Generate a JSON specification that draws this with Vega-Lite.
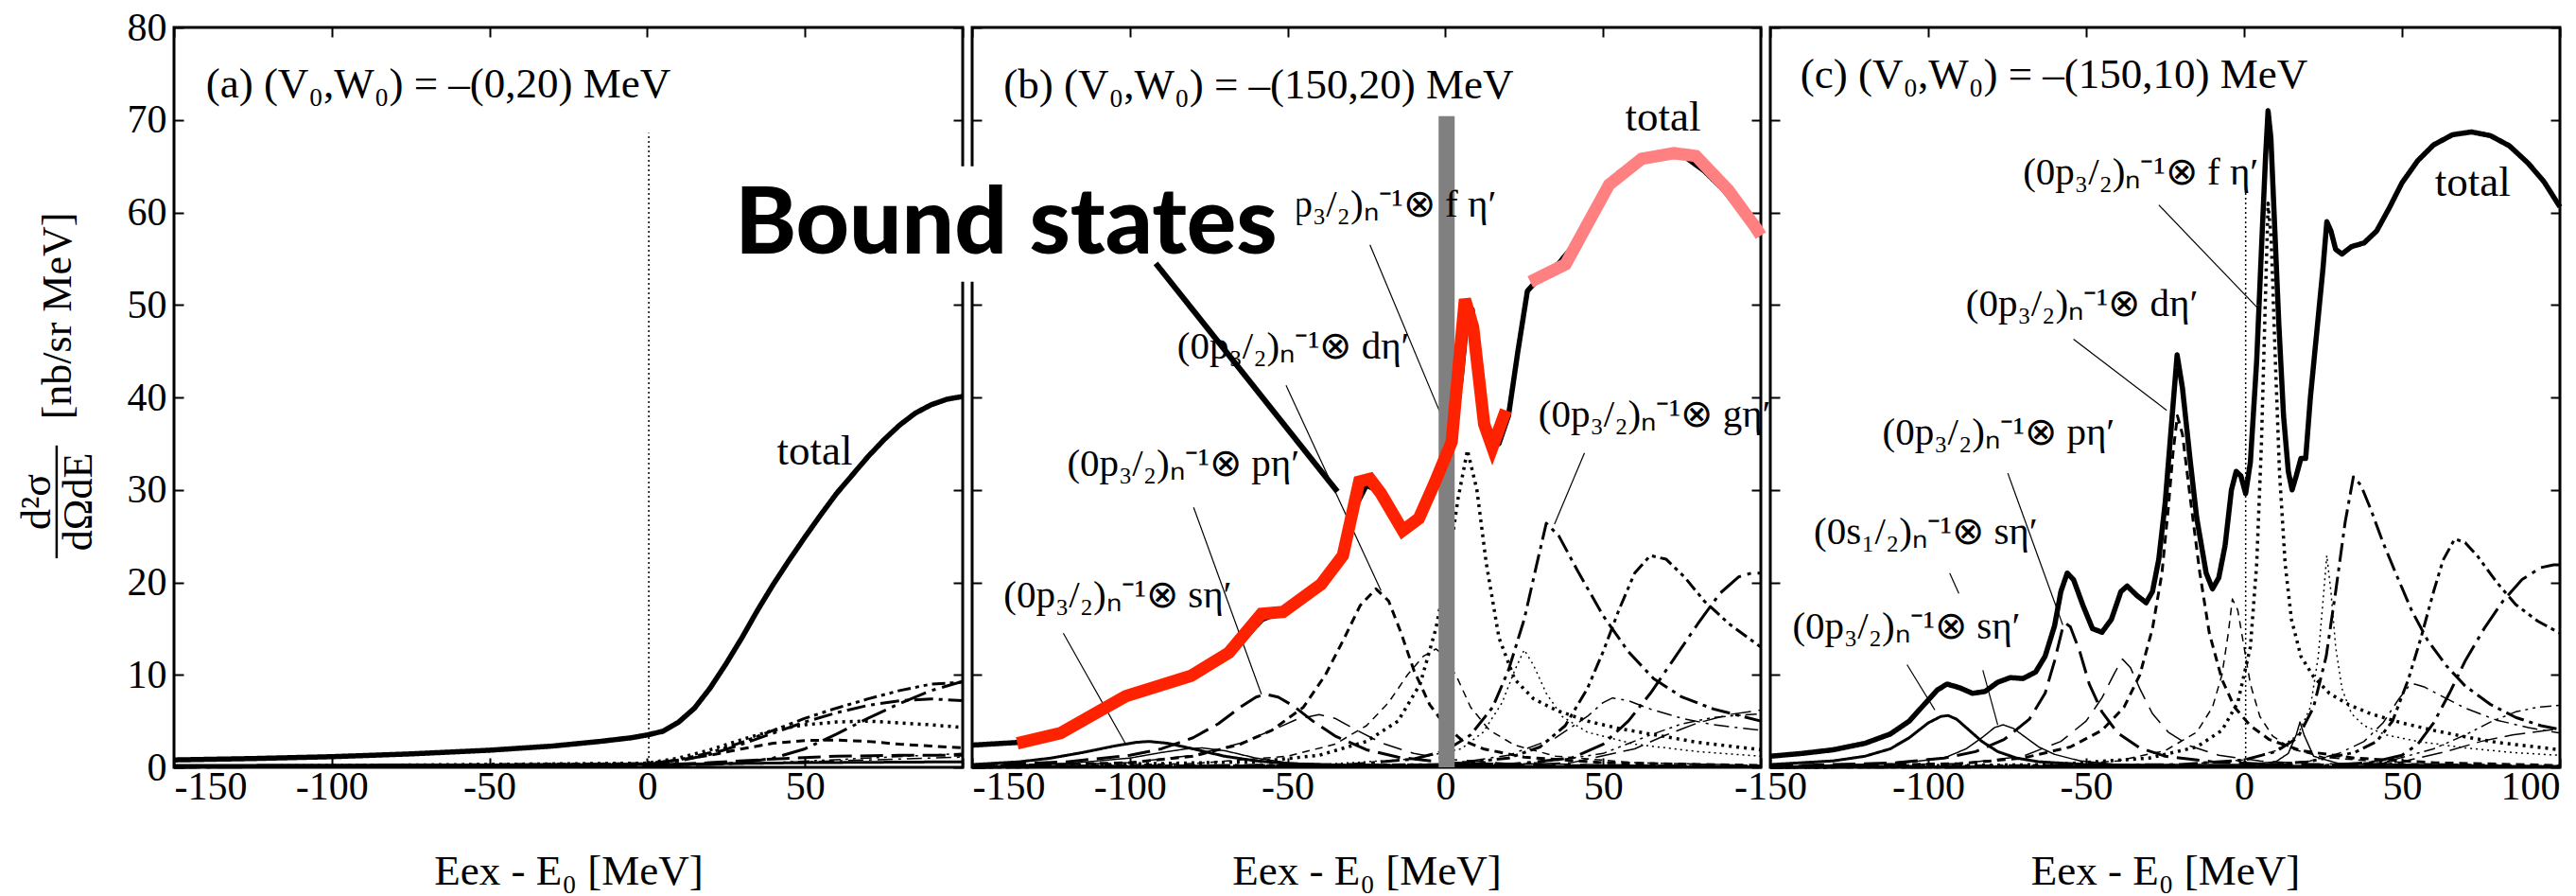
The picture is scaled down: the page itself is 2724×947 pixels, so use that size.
{
"$schema": "https://vega.github.io/schema/vega-lite/v6.json",
"padding": {"left": 16, "top": 6, "right": 20, "bottom": 0},
"bounds": "flush",
"spacing": 10,
"config": {
 "view": {"stroke": "black", "strokeWidth": 3},
 "font": "Liberation Serif",
 "style": {"guide-label": {"font": "Liberation Serif"}, "guide-title": {"font": "Liberation Serif"}},
 "axis": {"domain": false, "grid": false, "ticks": true, "tickSize": -10, "tickWidth": 2, "tickColor": "black", "labelFont": "Liberation Serif", "labelFontSize": 42, "labelColor": "black", "labelPadding": 10, "titleFont": "Liberation Serif", "titleFontSize": 45, "titleFontWeight": "normal", "titleColor": "black"}
},
"datasets": {
"curves": [
{"p":"a","s":"total","x":-150,"y":0.8},{"p":"a","s":"total","x":-125,"y":0.95},{"p":"a","s":"total","x":-100,"y":1.15},{"p":"a","s":"total","x":-75,"y":1.45},{"p":"a","s":"total","x":-50,"y":1.85},{"p":"a","s":"total","x":-30,"y":2.3},{"p":"a","s":"total","x":-15,"y":2.8},{"p":"a","s":"total","x":-5,"y":3.2},{"p":"a","s":"total","x":0,"y":3.5},{"p":"a","s":"total","x":5,"y":3.9},{"p":"a","s":"total","x":10,"y":4.9},{"p":"a","s":"total","x":15,"y":6.4},{"p":"a","s":"total","x":20,"y":8.6},{"p":"a","s":"total","x":25,"y":11.2},{"p":"a","s":"total","x":30,"y":14},{"p":"a","s":"total","x":35,"y":17},{"p":"a","s":"total","x":40,"y":19.8},{"p":"a","s":"total","x":45,"y":22.4},{"p":"a","s":"total","x":50,"y":24.9},{"p":"a","s":"total","x":55,"y":27.3},{"p":"a","s":"total","x":60,"y":29.6},{"p":"a","s":"total","x":65,"y":31.6},{"p":"a","s":"total","x":70,"y":33.6},{"p":"a","s":"total","x":75,"y":35.4},{"p":"a","s":"total","x":80,"y":37},{"p":"a","s":"total","x":85,"y":38.3},{"p":"a","s":"total","x":90,"y":39.2},{"p":"a","s":"total","x":95,"y":39.8},{"p":"a","s":"total","x":100,"y":40.1},
{"p":"a","s":"0p-h","x":-150,"y":0.05},{"p":"a","s":"0p-h","x":-50,"y":0.15},{"p":"a","s":"0p-h","x":0,"y":0.4},{"p":"a","s":"0p-h","x":10,"y":0.8},{"p":"a","s":"0p-h","x":20,"y":1.6},{"p":"a","s":"0p-h","x":30,"y":2.7},{"p":"a","s":"0p-h","x":40,"y":4.0},{"p":"a","s":"0p-h","x":50,"y":5.3},{"p":"a","s":"0p-h","x":60,"y":6.4},{"p":"a","s":"0p-h","x":70,"y":7.4},{"p":"a","s":"0p-h","x":80,"y":8.3},{"p":"a","s":"0p-h","x":90,"y":9.0},{"p":"a","s":"0p-h","x":100,"y":9.2},
{"p":"a","s":"0p-g","x":-150,"y":0.05},{"p":"a","s":"0p-g","x":0,"y":0.35},{"p":"a","s":"0p-g","x":10,"y":0.7},{"p":"a","s":"0p-g","x":20,"y":1.4},{"p":"a","s":"0p-g","x":30,"y":2.5},{"p":"a","s":"0p-g","x":40,"y":3.7},{"p":"a","s":"0p-g","x":50,"y":4.9},{"p":"a","s":"0p-g","x":60,"y":5.9},{"p":"a","s":"0p-g","x":70,"y":6.7},{"p":"a","s":"0p-g","x":80,"y":7.2},{"p":"a","s":"0p-g","x":90,"y":7.4},{"p":"a","s":"0p-g","x":100,"y":7.2},
{"p":"a","s":"0p-i","x":-150,"y":0},{"p":"a","s":"0p-i","x":20,"y":0.3},{"p":"a","s":"0p-i","x":30,"y":0.5},{"p":"a","s":"0p-i","x":40,"y":1.0},{"p":"a","s":"0p-i","x":50,"y":2.0},{"p":"a","s":"0p-i","x":60,"y":3.6},{"p":"a","s":"0p-i","x":70,"y":5.3},{"p":"a","s":"0p-i","x":80,"y":6.9},{"p":"a","s":"0p-i","x":90,"y":8.3},{"p":"a","s":"0p-i","x":100,"y":9.3},
{"p":"a","s":"0p-f","x":-150,"y":0.05},{"p":"a","s":"0p-f","x":0,"y":0.45},{"p":"a","s":"0p-f","x":10,"y":1.0},{"p":"a","s":"0p-f","x":20,"y":1.9},{"p":"a","s":"0p-f","x":30,"y":3.0},{"p":"a","s":"0p-f","x":40,"y":4.0},{"p":"a","s":"0p-f","x":50,"y":4.6},{"p":"a","s":"0p-f","x":60,"y":4.9},{"p":"a","s":"0p-f","x":70,"y":5.0},{"p":"a","s":"0p-f","x":80,"y":4.8},{"p":"a","s":"0p-f","x":90,"y":4.6},{"p":"a","s":"0p-f","x":100,"y":4.3},
{"p":"a","s":"0p-d","x":-150,"y":0.05},{"p":"a","s":"0p-d","x":0,"y":0.4},{"p":"a","s":"0p-d","x":10,"y":0.8},{"p":"a","s":"0p-d","x":20,"y":1.3},{"p":"a","s":"0p-d","x":30,"y":2.0},{"p":"a","s":"0p-d","x":40,"y":2.6},{"p":"a","s":"0p-d","x":50,"y":2.9},{"p":"a","s":"0p-d","x":60,"y":2.95},{"p":"a","s":"0p-d","x":70,"y":2.8},{"p":"a","s":"0p-d","x":80,"y":2.5},{"p":"a","s":"0p-d","x":90,"y":2.3},{"p":"a","s":"0p-d","x":100,"y":2.1},
{"p":"a","s":"0p-p","x":-150,"y":0.02},{"p":"a","s":"0p-p","x":0,"y":0.2},{"p":"a","s":"0p-p","x":20,"y":0.5},{"p":"a","s":"0p-p","x":40,"y":0.9},{"p":"a","s":"0p-p","x":60,"y":1.2},{"p":"a","s":"0p-p","x":80,"y":1.3},{"p":"a","s":"0p-p","x":100,"y":1.3},
{"p":"a","s":"0p-s","x":-150,"y":0.2},{"p":"a","s":"0p-s","x":0,"y":0.3},{"p":"a","s":"0p-s","x":50,"y":0.5},{"p":"a","s":"0p-s","x":100,"y":0.6},
{"p":"a","s":"0s-h","x":-150,"y":0},{"p":"a","s":"0s-h","x":0,"y":0.1},{"p":"a","s":"0s-h","x":40,"y":0.5},{"p":"a","s":"0s-h","x":70,"y":1.0},{"p":"a","s":"0s-h","x":100,"y":1.5},
{"p":"a","s":"0s-g","x":-150,"y":0},{"p":"a","s":"0s-g","x":0,"y":0.1},{"p":"a","s":"0s-g","x":50,"y":0.6},{"p":"a","s":"0s-g","x":100,"y":1.1},

{"p":"b","s":"total","x":-150,"y":2.4},{"p":"b","s":"total","x":-140,"y":2.6},{"p":"b","s":"total","x":-135,"y":2.7},{"p":"b","s":"total","x":-125,"y":3.4},{"p":"b","s":"total","x":-115,"y":5.2},{"p":"b","s":"total","x":-105,"y":7.0},{"p":"b","s":"total","x":-95,"y":8.3},{"p":"b","s":"total","x":-85,"y":9.3},{"p":"b","s":"total","x":-75,"y":10.8},{"p":"b","s":"total","x":-65,"y":13.5},{"p":"b","s":"total","x":-58,"y":16.0},{"p":"b","s":"total","x":-52,"y":16.8},{"p":"b","s":"total","x":-45,"y":18.2},{"p":"b","s":"total","x":-38,"y":20.2},{"p":"b","s":"total","x":-32,"y":23.5},{"p":"b","s":"total","x":-28,"y":28.5},{"p":"b","s":"total","x":-25,"y":30.5},{"p":"b","s":"total","x":-22,"y":30.0},{"p":"b","s":"total","x":-18,"y":28.0},{"p":"b","s":"total","x":-14,"y":26.0},{"p":"b","s":"total","x":-10,"y":26.2},{"p":"b","s":"total","x":-6,"y":28.0},{"p":"b","s":"total","x":-2,"y":31.5},{"p":"b","s":"total","x":2,"y":35.5},{"p":"b","s":"total","x":5,"y":42},{"p":"b","s":"total","x":7,"y":49},{"p":"b","s":"total","x":8.5,"y":49.5},{"p":"b","s":"total","x":10,"y":45},{"p":"b","s":"total","x":12,"y":39},{"p":"b","s":"total","x":14,"y":35.5},{"p":"b","s":"total","x":17,"y":35},{"p":"b","s":"total","x":20,"y":38},{"p":"b","s":"total","x":23,"y":45},{"p":"b","s":"total","x":26,"y":51.5},{"p":"b","s":"total","x":30,"y":53},{"p":"b","s":"total","x":36,"y":54.5},{"p":"b","s":"total","x":42,"y":57},{"p":"b","s":"total","x":48,"y":61},{"p":"b","s":"total","x":55,"y":64.3},{"p":"b","s":"total","x":62,"y":65.6},{"p":"b","s":"total","x":70,"y":66.2},{"p":"b","s":"total","x":76,"y":66},{"p":"b","s":"total","x":82,"y":64.5},{"p":"b","s":"total","x":88,"y":62.5},{"p":"b","s":"total","x":94,"y":60},{"p":"b","s":"total","x":100,"y":57.5},
{"p":"b","s":"0p-s","x":-150,"y":0.3},{"p":"b","s":"0p-s","x":-135,"y":0.6},{"p":"b","s":"0p-s","x":-125,"y":1.0},{"p":"b","s":"0p-s","x":-115,"y":1.6},{"p":"b","s":"0p-s","x":-105,"y":2.3},{"p":"b","s":"0p-s","x":-98,"y":2.7},{"p":"b","s":"0p-s","x":-94,"y":2.8},{"p":"b","s":"0p-s","x":-88,"y":2.6},{"p":"b","s":"0p-s","x":-80,"y":2.0},{"p":"b","s":"0p-s","x":-70,"y":1.2},{"p":"b","s":"0p-s","x":-60,"y":0.7},{"p":"b","s":"0p-s","x":-50,"y":0.4},{"p":"b","s":"0p-s","x":-30,"y":0.2},{"p":"b","s":"0p-s","x":0,"y":0.1},{"p":"b","s":"0p-s","x":100,"y":0.05},
{"p":"b","s":"0s-s","x":-150,"y":0.1},{"p":"b","s":"0s-s","x":-120,"y":0.4},{"p":"b","s":"0s-s","x":-100,"y":1.0},{"p":"b","s":"0s-s","x":-90,"y":1.6},{"p":"b","s":"0s-s","x":-82,"y":2.0},{"p":"b","s":"0s-s","x":-77,"y":2.1},{"p":"b","s":"0s-s","x":-70,"y":1.8},{"p":"b","s":"0s-s","x":-60,"y":1.0},{"p":"b","s":"0s-s","x":-50,"y":0.5},{"p":"b","s":"0s-s","x":-30,"y":0.2},{"p":"b","s":"0s-s","x":0,"y":0.1},{"p":"b","s":"0s-s","x":100,"y":0.05},
{"p":"b","s":"0p-p","x":-150,"y":0.2},{"p":"b","s":"0p-p","x":-120,"y":0.6},{"p":"b","s":"0p-p","x":-100,"y":1.3},{"p":"b","s":"0p-p","x":-90,"y":2.0},{"p":"b","s":"0p-p","x":-80,"y":3.2},{"p":"b","s":"0p-p","x":-72,"y":4.7},{"p":"b","s":"0p-p","x":-65,"y":6.5},{"p":"b","s":"0p-p","x":-60,"y":7.6},{"p":"b","s":"0p-p","x":-57,"y":7.9},{"p":"b","s":"0p-p","x":-53,"y":7.6},{"p":"b","s":"0p-p","x":-48,"y":6.6},{"p":"b","s":"0p-p","x":-42,"y":5.0},{"p":"b","s":"0p-p","x":-35,"y":3.4},{"p":"b","s":"0p-p","x":-25,"y":1.9},{"p":"b","s":"0p-p","x":-15,"y":1.1},{"p":"b","s":"0p-p","x":0,"y":0.5},{"p":"b","s":"0p-p","x":30,"y":0.2},{"p":"b","s":"0p-p","x":100,"y":0.1},
{"p":"b","s":"0s-p","x":-150,"y":0.1},{"p":"b","s":"0s-p","x":-100,"y":0.5},{"p":"b","s":"0s-p","x":-80,"y":1.3},{"p":"b","s":"0s-p","x":-65,"y":2.6},{"p":"b","s":"0s-p","x":-55,"y":4.0},{"p":"b","s":"0s-p","x":-47,"y":5.2},{"p":"b","s":"0s-p","x":-40,"y":5.7},{"p":"b","s":"0s-p","x":-35,"y":5.3},{"p":"b","s":"0s-p","x":-28,"y":4.0},{"p":"b","s":"0s-p","x":-20,"y":2.6},{"p":"b","s":"0s-p","x":-10,"y":1.5},{"p":"b","s":"0s-p","x":0,"y":0.9},{"p":"b","s":"0s-p","x":20,"y":0.4},{"p":"b","s":"0s-p","x":100,"y":0.1},
{"p":"b","s":"0p-d","x":-150,"y":0.1},{"p":"b","s":"0p-d","x":-100,"y":0.5},{"p":"b","s":"0p-d","x":-80,"y":1.2},{"p":"b","s":"0p-d","x":-65,"y":2.5},{"p":"b","s":"0p-d","x":-55,"y":4.0},{"p":"b","s":"0p-d","x":-45,"y":6.5},{"p":"b","s":"0p-d","x":-38,"y":10},{"p":"b","s":"0p-d","x":-32,"y":14},{"p":"b","s":"0p-d","x":-27,"y":17.5},{"p":"b","s":"0p-d","x":-22,"y":19.3},{"p":"b","s":"0p-d","x":-18,"y":18.0},{"p":"b","s":"0p-d","x":-14,"y":14.5},{"p":"b","s":"0p-d","x":-10,"y":10.5},{"p":"b","s":"0p-d","x":-5,"y":6.8},{"p":"b","s":"0p-d","x":0,"y":4.5},{"p":"b","s":"0p-d","x":5,"y":3.0},{"p":"b","s":"0p-d","x":12,"y":2.0},{"p":"b","s":"0p-d","x":25,"y":1.1},{"p":"b","s":"0p-d","x":50,"y":0.5},{"p":"b","s":"0p-d","x":100,"y":0.2},
{"p":"b","s":"0s-d","x":-150,"y":0.05},{"p":"b","s":"0s-d","x":-80,"y":0.4},{"p":"b","s":"0s-d","x":-50,"y":1.2},{"p":"b","s":"0s-d","x":-35,"y":2.5},{"p":"b","s":"0s-d","x":-25,"y":4.5},{"p":"b","s":"0s-d","x":-18,"y":7},{"p":"b","s":"0s-d","x":-12,"y":10},{"p":"b","s":"0s-d","x":-7,"y":12},{"p":"b","s":"0s-d","x":-3,"y":12.8},{"p":"b","s":"0s-d","x":0,"y":12},{"p":"b","s":"0s-d","x":4,"y":9.5},{"p":"b","s":"0s-d","x":8,"y":6.5},{"p":"b","s":"0s-d","x":14,"y":4},{"p":"b","s":"0s-d","x":22,"y":2.4},{"p":"b","s":"0s-d","x":35,"y":1.2},{"p":"b","s":"0s-d","x":60,"y":0.5},{"p":"b","s":"0s-d","x":100,"y":0.2},
{"p":"b","s":"0p-f","x":-150,"y":0.05},{"p":"b","s":"0p-f","x":-60,"y":0.6},{"p":"b","s":"0p-f","x":-40,"y":1.3},{"p":"b","s":"0p-f","x":-25,"y":2.8},{"p":"b","s":"0p-f","x":-15,"y":5},{"p":"b","s":"0p-f","x":-8,"y":9},{"p":"b","s":"0p-f","x":-3,"y":15},{"p":"b","s":"0p-f","x":1,"y":22},{"p":"b","s":"0p-f","x":4,"y":29},{"p":"b","s":"0p-f","x":7,"y":34.3},{"p":"b","s":"0p-f","x":10,"y":30},{"p":"b","s":"0p-f","x":13,"y":22},{"p":"b","s":"0p-f","x":17,"y":14},{"p":"b","s":"0p-f","x":22,"y":9.5},{"p":"b","s":"0p-f","x":28,"y":7.4},{"p":"b","s":"0p-f","x":35,"y":6.2},{"p":"b","s":"0p-f","x":45,"y":5.0},{"p":"b","s":"0p-f","x":55,"y":4.2},{"p":"b","s":"0p-f","x":65,"y":3.6},{"p":"b","s":"0p-f","x":80,"y":2.7},{"p":"b","s":"0p-f","x":100,"y":1.9},
{"p":"b","s":"0s-f","x":-150,"y":0},{"p":"b","s":"0s-f","x":-40,"y":0.3},{"p":"b","s":"0s-f","x":-10,"y":0.9},{"p":"b","s":"0s-f","x":5,"y":2.0},{"p":"b","s":"0s-f","x":12,"y":3.8},{"p":"b","s":"0s-f","x":18,"y":7},{"p":"b","s":"0s-f","x":22,"y":10.5},{"p":"b","s":"0s-f","x":25,"y":12.7},{"p":"b","s":"0s-f","x":28,"y":11},{"p":"b","s":"0s-f","x":32,"y":8},{"p":"b","s":"0s-f","x":37,"y":5.5},{"p":"b","s":"0s-f","x":45,"y":3.8},{"p":"b","s":"0s-f","x":60,"y":2.5},{"p":"b","s":"0s-f","x":80,"y":1.7},{"p":"b","s":"0s-f","x":100,"y":1.2},
{"p":"b","s":"0p-g","x":-150,"y":0},{"p":"b","s":"0p-g","x":-30,"y":0.3},{"p":"b","s":"0p-g","x":-10,"y":0.9},{"p":"b","s":"0p-g","x":0,"y":1.8},{"p":"b","s":"0p-g","x":8,"y":3.5},{"p":"b","s":"0p-g","x":15,"y":6.5},{"p":"b","s":"0p-g","x":20,"y":10.5},{"p":"b","s":"0p-g","x":25,"y":16},{"p":"b","s":"0p-g","x":29,"y":22},{"p":"b","s":"0p-g","x":32,"y":26.4},{"p":"b","s":"0p-g","x":36,"y":25},{"p":"b","s":"0p-g","x":42,"y":21.2},{"p":"b","s":"0p-g","x":50,"y":16.4},{"p":"b","s":"0p-g","x":58,"y":12.5},{"p":"b","s":"0p-g","x":66,"y":9.6},{"p":"b","s":"0p-g","x":75,"y":7.6},{"p":"b","s":"0p-g","x":85,"y":6.3},{"p":"b","s":"0p-g","x":100,"y":5.0},
{"p":"b","s":"0s-g","x":-150,"y":0},{"p":"b","s":"0s-g","x":0,"y":0.3},{"p":"b","s":"0s-g","x":20,"y":1.3},{"p":"b","s":"0s-g","x":35,"y":3.2},{"p":"b","s":"0s-g","x":45,"y":5.5},{"p":"b","s":"0s-g","x":50,"y":7},{"p":"b","s":"0s-g","x":53,"y":7.5},{"p":"b","s":"0s-g","x":58,"y":7.2},{"p":"b","s":"0s-g","x":65,"y":6.3},{"p":"b","s":"0s-g","x":75,"y":5.3},{"p":"b","s":"0s-g","x":85,"y":4.6},{"p":"b","s":"0s-g","x":100,"y":4.0},
{"p":"b","s":"0p-h","x":-150,"y":0},{"p":"b","s":"0p-h","x":0,"y":0.3},{"p":"b","s":"0p-h","x":20,"y":1.0},{"p":"b","s":"0p-h","x":30,"y":2.2},{"p":"b","s":"0p-h","x":38,"y":4.5},{"p":"b","s":"0p-h","x":45,"y":8.5},{"p":"b","s":"0p-h","x":50,"y":12.5},{"p":"b","s":"0p-h","x":55,"y":17},{"p":"b","s":"0p-h","x":60,"y":21},{"p":"b","s":"0p-h","x":65,"y":22.9},{"p":"b","s":"0p-h","x":70,"y":22.5},{"p":"b","s":"0p-h","x":76,"y":20.5},{"p":"b","s":"0p-h","x":82,"y":18},{"p":"b","s":"0p-h","x":90,"y":15.5},{"p":"b","s":"0p-h","x":100,"y":13.0},
{"p":"b","s":"0s-h","x":-150,"y":0},{"p":"b","s":"0s-h","x":0,"y":0.1},{"p":"b","s":"0s-h","x":30,"y":0.5},{"p":"b","s":"0s-h","x":50,"y":1.5},{"p":"b","s":"0s-h","x":65,"y":3.5},{"p":"b","s":"0s-h","x":75,"y":4.7},{"p":"b","s":"0s-h","x":85,"y":5.4},{"p":"b","s":"0s-h","x":100,"y":5.8},
{"p":"b","s":"0p-i","x":-150,"y":0},{"p":"b","s":"0p-i","x":20,"y":0.3},{"p":"b","s":"0p-i","x":40,"y":1.0},{"p":"b","s":"0p-i","x":50,"y":2.5},{"p":"b","s":"0p-i","x":58,"y":5.0},{"p":"b","s":"0p-i","x":65,"y":8.0},{"p":"b","s":"0p-i","x":72,"y":11.5},{"p":"b","s":"0p-i","x":80,"y":15.5},{"p":"b","s":"0p-i","x":87,"y":18.8},{"p":"b","s":"0p-i","x":93,"y":20.6},{"p":"b","s":"0p-i","x":97,"y":21},{"p":"b","s":"0p-i","x":100,"y":21},
{"p":"b","s":"0s-i","x":-150,"y":0},{"p":"b","s":"0s-i","x":0,"y":0.05},{"p":"b","s":"0s-i","x":40,"y":0.5},{"p":"b","s":"0s-i","x":60,"y":2.0},{"p":"b","s":"0s-i","x":70,"y":3.5},{"p":"b","s":"0s-i","x":80,"y":4.8},{"p":"b","s":"0s-i","x":90,"y":5.7},{"p":"b","s":"0s-i","x":100,"y":6.2},

{"p":"c","s":"total","x":-150,"y":1.2},{"p":"c","s":"total","x":-140,"y":1.5},{"p":"c","s":"total","x":-130,"y":1.9},{"p":"c","s":"total","x":-120,"y":2.6},{"p":"c","s":"total","x":-112,"y":3.6},{"p":"c","s":"total","x":-106,"y":5.0},{"p":"c","s":"total","x":-101,"y":6.9},{"p":"c","s":"total","x":-97,"y":8.4},{"p":"c","s":"total","x":-94,"y":9.0},{"p":"c","s":"total","x":-90,"y":8.6},{"p":"c","s":"total","x":-86,"y":8.0},{"p":"c","s":"total","x":-82,"y":8.2},{"p":"c","s":"total","x":-78,"y":9.2},{"p":"c","s":"total","x":-74,"y":9.7},{"p":"c","s":"total","x":-70,"y":9.6},{"p":"c","s":"total","x":-66,"y":10.3},{"p":"c","s":"total","x":-63,"y":12.0},{"p":"c","s":"total","x":-60,"y":15.3},{"p":"c","s":"total","x":-58,"y":19.0},{"p":"c","s":"total","x":-56,"y":21.0},{"p":"c","s":"total","x":-54,"y":20.3},{"p":"c","s":"total","x":-51,"y":17.5},{"p":"c","s":"total","x":-48,"y":15.0},{"p":"c","s":"total","x":-45,"y":14.6},{"p":"c","s":"total","x":-42,"y":16.0},{"p":"c","s":"total","x":-39,"y":19.0},{"p":"c","s":"total","x":-37,"y":19.6},{"p":"c","s":"total","x":-34,"y":18.6},{"p":"c","s":"total","x":-31,"y":17.8},{"p":"c","s":"total","x":-29,"y":19.0},{"p":"c","s":"total","x":-27,"y":22.5},{"p":"c","s":"total","x":-25,"y":28.5},{"p":"c","s":"total","x":-23,"y":37},{"p":"c","s":"total","x":-21.2,"y":44.6},{"p":"c","s":"total","x":-19.5,"y":41},{"p":"c","s":"total","x":-17,"y":33},{"p":"c","s":"total","x":-15,"y":27},{"p":"c","s":"total","x":-12,"y":21},{"p":"c","s":"total","x":-10,"y":19.3},{"p":"c","s":"total","x":-8,"y":20.5},{"p":"c","s":"total","x":-6,"y":24},{"p":"c","s":"total","x":-4,"y":30},{"p":"c","s":"total","x":-2.5,"y":32},{"p":"c","s":"total","x":-1,"y":31.5},{"p":"c","s":"total","x":0.5,"y":29.6},{"p":"c","s":"total","x":2,"y":33},{"p":"c","s":"total","x":4,"y":44},{"p":"c","s":"total","x":5.5,"y":56},{"p":"c","s":"total","x":6.8,"y":66},{"p":"c","s":"total","x":7.6,"y":71},{"p":"c","s":"total","x":8.5,"y":68},{"p":"c","s":"total","x":9.5,"y":60},{"p":"c","s":"total","x":11,"y":48},{"p":"c","s":"total","x":12.5,"y":38},{"p":"c","s":"total","x":14,"y":32},{"p":"c","s":"total","x":15.2,"y":30},{"p":"c","s":"total","x":16.5,"y":31.5},{"p":"c","s":"total","x":18,"y":33.4},{"p":"c","s":"total","x":19.5,"y":33.4},{"p":"c","s":"total","x":21,"y":40},{"p":"c","s":"total","x":23,"y":47},{"p":"c","s":"total","x":25,"y":54},{"p":"c","s":"total","x":26.2,"y":59},{"p":"c","s":"total","x":27.5,"y":58},{"p":"c","s":"total","x":29,"y":56},{"p":"c","s":"total","x":31,"y":55.5},{"p":"c","s":"total","x":34,"y":56.3},{"p":"c","s":"total","x":38,"y":56.7},{"p":"c","s":"total","x":42,"y":58},{"p":"c","s":"total","x":46,"y":60.5},{"p":"c","s":"total","x":50,"y":63.2},{"p":"c","s":"total","x":55,"y":65.6},{"p":"c","s":"total","x":60,"y":67.3},{"p":"c","s":"total","x":66,"y":68.4},{"p":"c","s":"total","x":72,"y":68.7},{"p":"c","s":"total","x":78,"y":68.3},{"p":"c","s":"total","x":84,"y":67.2},{"p":"c","s":"total","x":90,"y":65.3},{"p":"c","s":"total","x":95,"y":63.3},{"p":"c","s":"total","x":100,"y":60.6},
{"p":"c","s":"0p-s","x":-150,"y":0.3},{"p":"c","s":"0p-s","x":-130,"y":0.7},{"p":"c","s":"0p-s","x":-120,"y":1.2},{"p":"c","s":"0p-s","x":-112,"y":2.0},{"p":"c","s":"0p-s","x":-106,"y":3.2},{"p":"c","s":"0p-s","x":-100,"y":4.8},{"p":"c","s":"0p-s","x":-96,"y":5.5},{"p":"c","s":"0p-s","x":-93.7,"y":5.6},{"p":"c","s":"0p-s","x":-91,"y":5.2},{"p":"c","s":"0p-s","x":-87,"y":4.0},{"p":"c","s":"0p-s","x":-83,"y":2.8},{"p":"c","s":"0p-s","x":-78,"y":1.7},{"p":"c","s":"0p-s","x":-72,"y":1.0},{"p":"c","s":"0p-s","x":-65,"y":0.6},{"p":"c","s":"0p-s","x":-50,"y":0.3},{"p":"c","s":"0p-s","x":-20,"y":0.1},{"p":"c","s":"0p-s","x":100,"y":0.05},
{"p":"c","s":"0s-s","x":-150,"y":0.1},{"p":"c","s":"0s-s","x":-110,"y":0.4},{"p":"c","s":"0s-s","x":-95,"y":1.0},{"p":"c","s":"0s-s","x":-88,"y":2.0},{"p":"c","s":"0s-s","x":-83,"y":3.2},{"p":"c","s":"0s-s","x":-79,"y":4.3},{"p":"c","s":"0s-s","x":-76.3,"y":4.6},{"p":"c","s":"0s-s","x":-73,"y":4.2},{"p":"c","s":"0s-s","x":-69,"y":3.2},{"p":"c","s":"0s-s","x":-65,"y":2.2},{"p":"c","s":"0s-s","x":-60,"y":1.4},{"p":"c","s":"0s-s","x":-52,"y":0.7},{"p":"c","s":"0s-s","x":-40,"y":0.3},{"p":"c","s":"0s-s","x":0,"y":0.3},{"p":"c","s":"0s-s","x":10,"y":0.6},{"p":"c","s":"0s-s","x":14,"y":1.5},{"p":"c","s":"0s-s","x":16.5,"y":3.5},{"p":"c","s":"0s-s","x":17.7,"y":4.9},{"p":"c","s":"0s-s","x":19,"y":3.5},{"p":"c","s":"0s-s","x":22,"y":1.2},{"p":"c","s":"0s-s","x":30,"y":0.4},{"p":"c","s":"0s-s","x":100,"y":0.1},
{"p":"c","s":"0p-p","x":-150,"y":0.1},{"p":"c","s":"0p-p","x":-110,"y":0.5},{"p":"c","s":"0p-p","x":-95,"y":1.0},{"p":"c","s":"0p-p","x":-85,"y":1.7},{"p":"c","s":"0p-p","x":-76,"y":3.0},{"p":"c","s":"0p-p","x":-68,"y":5.2},{"p":"c","s":"0p-p","x":-63,"y":8.0},{"p":"c","s":"0p-p","x":-60,"y":11.5},{"p":"c","s":"0p-p","x":-57.5,"y":15.0},{"p":"c","s":"0p-p","x":-56.6,"y":15.6},{"p":"c","s":"0p-p","x":-55,"y":15.2},{"p":"c","s":"0p-p","x":-52,"y":12.5},{"p":"c","s":"0p-p","x":-49,"y":9.0},{"p":"c","s":"0p-p","x":-45,"y":6.0},{"p":"c","s":"0p-p","x":-40,"y":3.7},{"p":"c","s":"0p-p","x":-33,"y":2.1},{"p":"c","s":"0p-p","x":-25,"y":1.2},{"p":"c","s":"0p-p","x":-10,"y":0.6},{"p":"c","s":"0p-p","x":10,"y":0.3},{"p":"c","s":"0p-p","x":100,"y":0.1},
{"p":"c","s":"0s-p","x":-150,"y":0.05},{"p":"c","s":"0s-p","x":-90,"y":0.4},{"p":"c","s":"0s-p","x":-70,"y":1.2},{"p":"c","s":"0s-p","x":-58,"y":2.8},{"p":"c","s":"0s-p","x":-50,"y":5.0},{"p":"c","s":"0s-p","x":-45,"y":7.5},{"p":"c","s":"0s-p","x":-41,"y":10.2},{"p":"c","s":"0s-p","x":-38.5,"y":11.7},{"p":"c","s":"0s-p","x":-36,"y":10.8},{"p":"c","s":"0s-p","x":-33,"y":8.5},{"p":"c","s":"0s-p","x":-29,"y":5.8},{"p":"c","s":"0s-p","x":-24,"y":3.8},{"p":"c","s":"0s-p","x":-17,"y":2.3},{"p":"c","s":"0s-p","x":-8,"y":1.3},{"p":"c","s":"0s-p","x":5,"y":0.7},{"p":"c","s":"0s-p","x":20,"y":0.4},{"p":"c","s":"0s-p","x":100,"y":0.1},
{"p":"c","s":"0p-d","x":-150,"y":0.05},{"p":"c","s":"0p-d","x":-90,"y":0.4},{"p":"c","s":"0p-d","x":-70,"y":1.0},{"p":"c","s":"0p-d","x":-55,"y":2.2},{"p":"c","s":"0p-d","x":-45,"y":4.0},{"p":"c","s":"0p-d","x":-38,"y":6.5},{"p":"c","s":"0p-d","x":-33,"y":10},{"p":"c","s":"0p-d","x":-29,"y":15},{"p":"c","s":"0p-d","x":-26,"y":21},{"p":"c","s":"0p-d","x":-24,"y":28},{"p":"c","s":"0p-d","x":-22.5,"y":34},{"p":"c","s":"0p-d","x":-21.1,"y":38},{"p":"c","s":"0p-d","x":-19.5,"y":36},{"p":"c","s":"0p-d","x":-17,"y":29},{"p":"c","s":"0p-d","x":-14,"y":21},{"p":"c","s":"0p-d","x":-11,"y":14.5},{"p":"c","s":"0p-d","x":-7,"y":9.5},{"p":"c","s":"0p-d","x":-3,"y":6.5},{"p":"c","s":"0p-d","x":2,"y":4.5},{"p":"c","s":"0p-d","x":8,"y":3},{"p":"c","s":"0p-d","x":18,"y":1.8},{"p":"c","s":"0p-d","x":35,"y":1.0},{"p":"c","s":"0p-d","x":60,"y":0.5},{"p":"c","s":"0p-d","x":100,"y":0.2},
{"p":"c","s":"0s-d","x":-150,"y":0},{"p":"c","s":"0s-d","x":-60,"y":0.2},{"p":"c","s":"0s-d","x":-40,"y":0.7},{"p":"c","s":"0s-d","x":-25,"y":1.8},{"p":"c","s":"0s-d","x":-15,"y":3.8},{"p":"c","s":"0s-d","x":-10,"y":6.5},{"p":"c","s":"0s-d","x":-7,"y":10},{"p":"c","s":"0s-d","x":-5,"y":14.5},{"p":"c","s":"0s-d","x":-3.7,"y":18.2},{"p":"c","s":"0s-d","x":-2,"y":17},{"p":"c","s":"0s-d","x":0,"y":13},{"p":"c","s":"0s-d","x":2,"y":9},{"p":"c","s":"0s-d","x":5,"y":5.5},{"p":"c","s":"0s-d","x":9,"y":3.4},{"p":"c","s":"0s-d","x":15,"y":2.0},{"p":"c","s":"0s-d","x":25,"y":1.1},{"p":"c","s":"0s-d","x":50,"y":0.4},{"p":"c","s":"0s-d","x":100,"y":0.2},
{"p":"c","s":"0p-f","x":-150,"y":0},{"p":"c","s":"0p-f","x":-60,"y":0.3},{"p":"c","s":"0p-f","x":-30,"y":1.0},{"p":"c","s":"0p-f","x":-15,"y":2.2},{"p":"c","s":"0p-f","x":-7,"y":4},{"p":"c","s":"0p-f","x":-2,"y":7},{"p":"c","s":"0p-f","x":2,"y":13},{"p":"c","s":"0p-f","x":4,"y":22},{"p":"c","s":"0p-f","x":5.5,"y":35},{"p":"c","s":"0p-f","x":6.7,"y":50},{"p":"c","s":"0p-f","x":7.6,"y":61},{"p":"c","s":"0p-f","x":8.6,"y":57},{"p":"c","s":"0p-f","x":9.8,"y":45},{"p":"c","s":"0p-f","x":11.2,"y":32},{"p":"c","s":"0p-f","x":13,"y":22},{"p":"c","s":"0p-f","x":15,"y":16},{"p":"c","s":"0p-f","x":18,"y":12},{"p":"c","s":"0p-f","x":22,"y":9.8},{"p":"c","s":"0p-f","x":27,"y":8.0},{"p":"c","s":"0p-f","x":33,"y":6.8},{"p":"c","s":"0p-f","x":40,"y":5.8},{"p":"c","s":"0p-f","x":50,"y":4.8},{"p":"c","s":"0p-f","x":60,"y":4.0},{"p":"c","s":"0p-f","x":70,"y":3.3},{"p":"c","s":"0p-f","x":80,"y":2.7},{"p":"c","s":"0p-f","x":90,"y":2.3},{"p":"c","s":"0p-f","x":100,"y":1.9},
{"p":"c","s":"0s-f","x":-150,"y":0},{"p":"c","s":"0s-f","x":-20,"y":0.3},{"p":"c","s":"0s-f","x":0,"y":0.8},{"p":"c","s":"0s-f","x":10,"y":1.8},{"p":"c","s":"0s-f","x":17,"y":3.5},{"p":"c","s":"0s-f","x":21,"y":6.5},{"p":"c","s":"0s-f","x":23.5,"y":12},{"p":"c","s":"0s-f","x":25,"y":18},{"p":"c","s":"0s-f","x":26.2,"y":22.9},{"p":"c","s":"0s-f","x":27.5,"y":19},{"p":"c","s":"0s-f","x":29,"y":13},{"p":"c","s":"0s-f","x":31,"y":8.5},{"p":"c","s":"0s-f","x":34,"y":5.8},{"p":"c","s":"0s-f","x":38,"y":4.5},{"p":"c","s":"0s-f","x":45,"y":3.5},{"p":"c","s":"0s-f","x":55,"y":2.8},{"p":"c","s":"0s-f","x":70,"y":2.1},{"p":"c","s":"0s-f","x":85,"y":1.6},{"p":"c","s":"0s-f","x":100,"y":1.3},
{"p":"c","s":"0p-g","x":-150,"y":0},{"p":"c","s":"0p-g","x":-20,"y":0.3},{"p":"c","s":"0p-g","x":0,"y":0.8},{"p":"c","s":"0p-g","x":10,"y":1.7},{"p":"c","s":"0p-g","x":17,"y":3.2},{"p":"c","s":"0p-g","x":22,"y":6.5},{"p":"c","s":"0p-g","x":26,"y":12},{"p":"c","s":"0p-g","x":29,"y":19},{"p":"c","s":"0p-g","x":32,"y":26.5},{"p":"c","s":"0p-g","x":34.6,"y":31.4},{"p":"c","s":"0p-g","x":37,"y":30.5},{"p":"c","s":"0p-g","x":40,"y":28},{"p":"c","s":"0p-g","x":44,"y":24.3},{"p":"c","s":"0p-g","x":48,"y":21},{"p":"c","s":"0p-g","x":53,"y":17},{"p":"c","s":"0p-g","x":58,"y":13.8},{"p":"c","s":"0p-g","x":64,"y":11},{"p":"c","s":"0p-g","x":70,"y":8.8},{"p":"c","s":"0p-g","x":78,"y":6.8},{"p":"c","s":"0p-g","x":86,"y":5.4},{"p":"c","s":"0p-g","x":94,"y":4.5},{"p":"c","s":"0p-g","x":100,"y":4.1},
{"p":"c","s":"0s-g","x":-150,"y":0},{"p":"c","s":"0s-g","x":0,"y":0.2},{"p":"c","s":"0s-g","x":20,"y":0.6},{"p":"c","s":"0s-g","x":30,"y":1.5},{"p":"c","s":"0s-g","x":38,"y":2.8},{"p":"c","s":"0s-g","x":44,"y":4.8},{"p":"c","s":"0s-g","x":49,"y":7.4},{"p":"c","s":"0s-g","x":52,"y":8.7},{"p":"c","s":"0s-g","x":54,"y":9.0},{"p":"c","s":"0s-g","x":57,"y":8.7},{"p":"c","s":"0s-g","x":62,"y":7.8},{"p":"c","s":"0s-g","x":70,"y":6.4},{"p":"c","s":"0s-g","x":80,"y":5.1},{"p":"c","s":"0s-g","x":90,"y":4.3},{"p":"c","s":"0s-g","x":100,"y":3.7},
{"p":"c","s":"0p-h","x":-150,"y":0},{"p":"c","s":"0p-h","x":0,"y":0.1},{"p":"c","s":"0p-h","x":20,"y":0.6},{"p":"c","s":"0p-h","x":35,"y":1.6},{"p":"c","s":"0p-h","x":42,"y":2.8},{"p":"c","s":"0p-h","x":47,"y":5.0},{"p":"c","s":"0p-h","x":52,"y":9.5},{"p":"c","s":"0p-h","x":56,"y":14},{"p":"c","s":"0p-h","x":60,"y":19},{"p":"c","s":"0p-h","x":63,"y":22.4},{"p":"c","s":"0p-h","x":66.7,"y":24.7},{"p":"c","s":"0p-h","x":70,"y":24.3},{"p":"c","s":"0p-h","x":74,"y":22.8},{"p":"c","s":"0p-h","x":80,"y":20.0},{"p":"c","s":"0p-h","x":86,"y":17.6},{"p":"c","s":"0p-h","x":93,"y":15.8},{"p":"c","s":"0p-h","x":100,"y":14.5},
{"p":"c","s":"0s-h","x":-150,"y":0},{"p":"c","s":"0s-h","x":20,"y":0.1},{"p":"c","s":"0s-h","x":45,"y":0.6},{"p":"c","s":"0s-h","x":60,"y":2.0},{"p":"c","s":"0s-h","x":70,"y":3.5},{"p":"c","s":"0s-h","x":78,"y":4.9},{"p":"c","s":"0s-h","x":86,"y":6.0},{"p":"c","s":"0s-h","x":93,"y":6.5},{"p":"c","s":"0s-h","x":100,"y":6.7},
{"p":"c","s":"0p-i","x":-150,"y":0},{"p":"c","s":"0p-i","x":20,"y":0.1},{"p":"c","s":"0p-i","x":40,"y":0.5},{"p":"c","s":"0p-i","x":50,"y":1.3},{"p":"c","s":"0p-i","x":55,"y":2.5},{"p":"c","s":"0p-i","x":60,"y":4.8},{"p":"c","s":"0p-i","x":65,"y":8.0},{"p":"c","s":"0p-i","x":70,"y":11.5},{"p":"c","s":"0p-i","x":76,"y":15.0},{"p":"c","s":"0p-i","x":82,"y":18.0},{"p":"c","s":"0p-i","x":88,"y":20.3},{"p":"c","s":"0p-i","x":94,"y":21.6},{"p":"c","s":"0p-i","x":98,"y":21.9},{"p":"c","s":"0p-i","x":100,"y":21.9},
{"p":"c","s":"0s-i","x":-150,"y":0},{"p":"c","s":"0s-i","x":30,"y":0.1},{"p":"c","s":"0s-i","x":50,"y":0.6},{"p":"c","s":"0s-i","x":65,"y":1.8},{"p":"c","s":"0s-i","x":75,"y":2.8},{"p":"c","s":"0s-i","x":85,"y":3.5},{"p":"c","s":"0s-i","x":100,"y":4.2}
],
"texts": [
{"p":"a","k":"title","x":-139.9,"y":72.4,"t":"(a) (V₀,W₀) = –(0,20) MeV"},
{"p":"a","k":"total","x":41.1,"y":32.7,"t":"total"},
{"p":"b","k":"title","x":-140,"y":72.3,"t":"(b) (V₀,W₀) = –(150,20) MeV"},
{"p":"b","k":"total","x":57,"y":68.9,"t":"total"},
{"p":"b","k":"state","x":-140,"y":17.3,"t":"(0p₃/₂)ₙ⁻¹⊗ sη′"},
{"p":"b","k":"state","x":-119.9,"y":31.5,"t":"(0p₃/₂)ₙ⁻¹⊗ pη′"},
{"p":"b","k":"state","x":-85,"y":44.2,"t":"(0p₃/₂)ₙ⁻¹⊗ dη′"},
{"p":"b","k":"state","x":-58.5,"y":59.5,"t":"(0p₃/₂)ₙ⁻¹⊗ f η′"},
{"p":"b","k":"state","x":29.5,"y":36.8,"t":"(0p₃/₂)ₙ⁻¹⊗ gη′"},
{"p":"c","k":"title","x":-140.5,"y":73.5,"t":"(c) (V₀,W₀) = –(150,10) MeV"},
{"p":"c","k":"total","x":60.4,"y":61.8,"t":"total"},
{"p":"c","k":"state","x":-70,"y":63,"t":"(0p₃/₂)ₙ⁻¹⊗ f η′"},
{"p":"c","k":"state","x":-88.1,"y":48.8,"t":"(0p₃/₂)ₙ⁻¹⊗ dη′"},
{"p":"c","k":"state","x":-114.5,"y":34.9,"t":"(0p₃/₂)ₙ⁻¹⊗ pη′"},
{"p":"c","k":"state","x":-136.2,"y":24.1,"t":"(0s₁/₂)ₙ⁻¹⊗ sη′"},
{"p":"c","k":"state","x":-143,"y":13.9,"t":"(0p₃/₂)ₙ⁻¹⊗ sη′"}
],
"leaders": [
{"p":"b","x":-121.1,"y":14.5,"x2":-101.3,"y2":2.5},
{"p":"b","x":-79.8,"y":28.1,"x2":-58.3,"y2":7.9},
{"p":"b","x":-50.5,"y":41.3,"x2":-20.4,"y2":19.1},
{"p":"b","x":-23.9,"y":56.5,"x2":-1.6,"y2":38.3},
{"p":"b","x":44.1,"y":34,"x2":34.6,"y2":26.3},
{"p":"c","x":-27,"y":60.8,"x2":4.2,"y2":49.7},
{"p":"c","x":-54,"y":46.3,"x2":-24.5,"y2":38.6},
{"p":"c","x":-74.8,"y":31.8,"x2":-57.4,"y2":15.4},
{"p":"c","x":-93.2,"y":21,"x2":-90.3,"y2":18.8},
{"p":"c","x":-106.7,"y":11.1,"x2":-97.9,"y2":6.2},
{"p":"c","x":-82.7,"y":10.5,"x2":-78,"y2":4.6}
],
"vlines": [
{"p":"a","x":0.5,"y":0,"y2":68.6},
{"p":"c","x":0.5,"y":0,"y2":64.9}
]
},
"hconcat": [
{
"width": 834, "height": 782,
"resolve": {"axis": {"x": "independent", "y": "independent"}},
"layer": [
{"data": {"name": "curves"}, "transform": [{"filter": "datum.p == 'a'"}],
 "mark": {"type": "line", "color": "black", "strokeJoin": "round"},
 "encoding": {
  "x": {"field": "x", "type": "quantitative", "scale": {"domain": [-150, 100], "nice": false, "zero": false}, "axis": {"orient": "bottom", "values": [-150, -100, -50, 0, 50, 100], "labelFont": "Liberation Serif", "titleFont": "Liberation Serif", "labelExpr": "datum.value == 100 ? '' : replace(datum.label, '−', '-')", "title": "Eex - E₀ [MeV]", "titlePadding": 46}},
  "y": {"field": "y", "type": "quantitative", "scale": {"domain": [0, 80], "nice": false, "zero": false}, "axis": {"orient": "left", "values": [0, 10, 20, 30, 40, 50, 60, 70, 80], "labelFont": "Liberation Serif", "labelPadding": 18, "title": null}},
  "detail": {"field": "s"},
  "strokeDash": {"field": "s", "type": "nominal", "legend": null, "scale": {"domain": ["total","0p-s","0s-s","0p-p","0s-p","0p-d","0s-d","0p-f","0s-f","0p-g","0s-g","0p-h","0s-h","0p-i","0s-i"], "range": [[1,0],[1,0],[1,0],[24,9],[20,10],[9,6],[8,6],[3,5],[2,4],[20,6,4,6],[16,6,3,6],[14,5,4,5,4,5],[12,5,3,5,3,5],[28,7,4,7],[22,8]]}},
  "strokeWidth": {"field": "s", "type": "nominal", "legend": null, "scale": {"type": "ordinal", "domain": ["total","0p-s","0s-s","0p-p","0s-p","0p-d","0s-d","0p-f","0s-f","0p-g","0s-g","0p-h","0s-h","0p-i","0s-i"], "range": [5.5,3,1.5,3,1.5,3,1.5,3.5,1.5,3,1.5,3,1.5,3,1.5]}}
 }},
{"data": {"name": "vlines"}, "transform": [{"filter": "datum.p == 'a'"}],
 "mark": {"type": "rule", "color": "black", "strokeWidth": 1.5, "strokeDash": [2, 3]},
 "encoding": {"x": {"field": "x", "type": "quantitative", "axis": null}, "y": {"field": "y", "type": "quantitative", "axis": null}, "y2": {"field": "y2"}}},
{"data": {"name": "texts"}, "transform": [{"filter": "datum.p == 'a'"}],
 "mark": {"type": "text", "align": "left", "baseline": "alphabetic", "font": "Liberation Serif", "fontSize": 45, "color": "black"},
 "encoding": {
  "x": {"field": "x", "type": "quantitative", "axis": {"orient": "top", "labels": false, "title": null, "values": [-150, -100, -50, 0, 50, 100]}},
  "y": {"field": "y", "type": "quantitative", "axis": {"orient": "right", "labels": false, "title": null, "values": [0, 10, 20, 30, 40, 50, 60, 70, 80]}},
  "text": {"field": "t"}}},
{"data": {"values": [{"x": -193.2, "y": 28.7, "t": "d²σ"}, {"x": -180.0, "y": 28.7, "t": "dΩdE"}, {"x": -186.6, "y": 48.8, "t": "[nb/sr MeV]"}]},
 "mark": {"type": "text", "angle": 270, "align": "center", "baseline": "middle", "font": "Liberation Serif", "fontSize": 44, "color": "black"},
 "encoding": {"x": {"field": "x", "type": "quantitative", "axis": null}, "y": {"field": "y", "type": "quantitative", "axis": null}, "text": {"field": "t"}}},
{"data": {"values": [{"x": -187.2, "y": 22.6, "y2": 34.8}]},
 "mark": {"type": "rule", "color": "black", "strokeWidth": 2.5},
 "encoding": {"x": {"field": "x", "type": "quantitative", "axis": null}, "y": {"field": "y", "type": "quantitative", "axis": null}, "y2": {"field": "y2"}}}
]
},
{
"width": 834, "height": 782,
"resolve": {"axis": {"x": "independent", "y": "independent"}},
"layer": [
{"data": {"name": "curves"}, "transform": [{"filter": "datum.p == 'b'"}],
 "mark": {"type": "line", "color": "black", "strokeJoin": "round"},
 "encoding": {
  "x": {"field": "x", "type": "quantitative", "scale": {"domain": [-150, 100], "nice": false, "zero": false}, "axis": {"orient": "bottom", "values": [-150, -100, -50, 0, 50, 100], "labelFont": "Liberation Serif", "titleFont": "Liberation Serif", "labelExpr": "datum.value == 100 ? '' : replace(datum.label, '−', '-')", "title": "Eex - E₀ [MeV]", "titlePadding": 46}},
  "y": {"field": "y", "type": "quantitative", "scale": {"domain": [0, 80], "nice": false, "zero": false}, "axis": {"orient": "left", "values": [0, 10, 20, 30, 40, 50, 60, 70, 80], "labels": false, "title": null}},
  "detail": {"field": "s"},
  "strokeDash": {"field": "s", "type": "nominal", "legend": null, "scale": {"domain": ["total","0p-s","0s-s","0p-p","0s-p","0p-d","0s-d","0p-f","0s-f","0p-g","0s-g","0p-h","0s-h","0p-i","0s-i"], "range": [[1,0],[1,0],[1,0],[24,9],[20,10],[9,6],[8,6],[3,5],[2,4],[20,6,4,6],[16,6,3,6],[14,5,4,5,4,5],[12,5,3,5,3,5],[28,7,4,7],[22,8]]}},
  "strokeWidth": {"field": "s", "type": "nominal", "legend": null, "scale": {"type": "ordinal", "domain": ["total","0p-s","0s-s","0p-p","0s-p","0p-d","0s-d","0p-f","0s-f","0p-g","0s-g","0p-h","0s-h","0p-i","0s-i"], "range": [5.5,3,1.5,3,1.5,3,1.5,3.5,1.5,3,1.5,3,1.5,3,1.5]}}
 }},
{"data": {"name": "leaders"}, "transform": [{"filter": "datum.p == 'b'"}],
 "mark": {"type": "rule", "color": "black", "strokeWidth": 1.2},
 "encoding": {"x": {"field": "x", "type": "quantitative", "axis": null}, "y": {"field": "y", "type": "quantitative", "axis": null}, "x2": {"field": "x2"}, "y2": {"field": "y2"}}},
{"data": {"values": [{"x": 0.4, "y": 0, "y2": 70.4}]},
 "mark": {"type": "rule", "color": "#808080", "strokeWidth": 17},
 "encoding": {"x": {"field": "x", "type": "quantitative", "axis": null}, "y": {"field": "y", "type": "quantitative", "axis": null}, "y2": {"field": "y2"}}},
{"data": {"values": [
  {"h":"bound","x":-135.7,"y":2.6},{"h":"bound","x":-122,"y":3.7},{"h":"bound","x":-101.3,"y":7.7},{"h":"bound","x":-80.6,"y":9.9},{"h":"bound","x":-68.6,"y":12.4},{"h":"bound","x":-58.3,"y":16.6},{"h":"bound","x":-51.4,"y":16.8},{"h":"bound","x":-39.4,"y":19.8},{"h":"bound","x":-32.5,"y":22.9},{"h":"bound","x":-27.3,"y":30.9},{"h":"bound","x":-23.9,"y":31.2},{"h":"bound","x":-20.4,"y":29.6},{"h":"bound","x":-13.5,"y":25.6},{"h":"bound","x":-8.4,"y":26.9},{"h":"bound","x":-3.2,"y":30.9},{"h":"bound","x":2,"y":35.2},{"h":"bound","x":6.2,"y":50.6},{"h":"bound","x":8.8,"y":47.6},{"h":"bound","x":12.3,"y":37.1},{"h":"bound","x":14.9,"y":34.6},{"h":"bound","x":19.2,"y":38.6},
  {"h":"continuum","x":26.9,"y":52.5},{"h":"continuum","x":38.1,"y":54.4},{"h":"continuum","x":45,"y":58.7},{"h":"continuum","x":51.9,"y":63},{"h":"continuum","x":62.2,"y":65.8},{"h":"continuum","x":72.5,"y":66.4},{"h":"continuum","x":79.4,"y":66.1},{"h":"continuum","x":89.7,"y":62.4},{"h":"continuum","x":98.3,"y":58.4},{"h":"continuum","x":100,"y":57.5}
 ]},
 "mark": {"type": "line", "strokeWidth": 13, "strokeJoin": "miter", "strokeCap": "butt"},
 "encoding": {"x": {"field": "x", "type": "quantitative", "axis": null}, "y": {"field": "y", "type": "quantitative", "axis": null},
  "color": {"field": "h", "type": "nominal", "legend": null, "scale": {"domain": ["bound", "continuum"], "range": ["#ff2200", "#ff8080"]}}}},
{"data": {"name": "texts"}, "transform": [{"filter": "datum.p == 'b' && datum.k == 'state'"}],
 "mark": {"type": "text", "align": "left", "baseline": "alphabetic", "font": "Liberation Serif", "fontSize": 41, "color": "black"},
 "encoding": {
  "x": {"field": "x", "type": "quantitative", "axis": {"orient": "top", "labels": false, "title": null, "values": [-150, -100, -50, 0, 50, 100]}},
  "y": {"field": "y", "type": "quantitative", "axis": {"orient": "right", "labels": false, "title": null, "values": [0, 10, 20, 30, 40, 50, 60, 70, 80]}},
  "text": {"field": "t"}}},
{"data": {"name": "texts"}, "transform": [{"filter": "datum.p == 'b' && datum.k != 'state'"}],
 "mark": {"type": "text", "align": "left", "baseline": "alphabetic", "font": "Liberation Serif", "fontSize": 45, "color": "black"},
 "encoding": {"x": {"field": "x", "type": "quantitative", "axis": null}, "y": {"field": "y", "type": "quantitative", "axis": null}, "text": {"field": "t"}}},
{"data": {"values": [{"x": -228, "x2": -47, "y": 52.5, "y2": 65}]},
 "mark": {"type": "rect", "color": "white"},
 "encoding": {"x": {"field": "x", "type": "quantitative", "axis": null}, "x2": {"field": "x2"}, "y": {"field": "y", "type": "quantitative", "axis": null}, "y2": {"field": "y2"}}},
{"data": {"values": [{"x": -225.2, "y": 55.5, "t": "Bound states"}]},
 "mark": {"type": "text", "align": "left", "baseline": "alphabetic", "font": "Lato", "fontWeight": 900, "fontSize": 98, "color": "black"},
 "encoding": {"x": {"field": "x", "type": "quantitative", "axis": null}, "y": {"field": "y", "type": "quantitative", "axis": null}, "text": {"field": "t"}}},
{"data": {"values": [{"x": -91.8, "y": 54.5, "x2": -34.2, "y2": 29.8}]},
 "mark": {"type": "rule", "color": "black", "strokeWidth": 6},
 "encoding": {"x": {"field": "x", "type": "quantitative", "axis": null}, "y": {"field": "y", "type": "quantitative", "axis": null}, "x2": {"field": "x2"}, "y2": {"field": "y2"}}}
]
},
{
"width": 835, "height": 782,
"resolve": {"axis": {"x": "independent", "y": "independent"}},
"layer": [
{"data": {"name": "curves"}, "transform": [{"filter": "datum.p == 'c'"}],
 "mark": {"type": "line", "color": "black", "strokeJoin": "round"},
 "encoding": {
  "x": {"field": "x", "type": "quantitative", "scale": {"domain": [-150, 100], "nice": false, "zero": false}, "axis": {"orient": "bottom", "values": [-150, -100, -50, 0, 50, 100], "labelFont": "Liberation Serif", "titleFont": "Liberation Serif", "labelExpr": "replace(datum.label, '−', '-')", "labelAlign": {"condition": {"test": "datum.value == 100", "value": "right"}, "value": "center"}, "title": "Eex - E₀ [MeV]", "titlePadding": 46}},
  "y": {"field": "y", "type": "quantitative", "scale": {"domain": [0, 80], "nice": false, "zero": false}, "axis": {"orient": "left", "values": [0, 10, 20, 30, 40, 50, 60, 70, 80], "labels": false, "title": null}},
  "detail": {"field": "s"},
  "strokeDash": {"field": "s", "type": "nominal", "legend": null, "scale": {"domain": ["total","0p-s","0s-s","0p-p","0s-p","0p-d","0s-d","0p-f","0s-f","0p-g","0s-g","0p-h","0s-h","0p-i","0s-i"], "range": [[1,0],[1,0],[1,0],[24,9],[20,10],[9,6],[8,6],[3,5],[2,4],[20,6,4,6],[16,6,3,6],[14,5,4,5,4,5],[12,5,3,5,3,5],[28,7,4,7],[22,8]]}},
  "strokeWidth": {"field": "s", "type": "nominal", "legend": null, "scale": {"type": "ordinal", "domain": ["total","0p-s","0s-s","0p-p","0s-p","0p-d","0s-d","0p-f","0s-f","0p-g","0s-g","0p-h","0s-h","0p-i","0s-i"], "range": [5.5,3,1.5,3,1.5,3,1.5,3.5,1.5,3,1.5,3,1.5,3,1.5]}}
 }},
{"data": {"name": "vlines"}, "transform": [{"filter": "datum.p == 'c'"}],
 "mark": {"type": "rule", "color": "black", "strokeWidth": 1.5, "strokeDash": [2, 3]},
 "encoding": {"x": {"field": "x", "type": "quantitative", "axis": null}, "y": {"field": "y", "type": "quantitative", "axis": null}, "y2": {"field": "y2"}}},
{"data": {"name": "leaders"}, "transform": [{"filter": "datum.p == 'c'"}],
 "mark": {"type": "rule", "color": "black", "strokeWidth": 1.2},
 "encoding": {"x": {"field": "x", "type": "quantitative", "axis": null}, "y": {"field": "y", "type": "quantitative", "axis": null}, "x2": {"field": "x2"}, "y2": {"field": "y2"}}},
{"data": {"name": "texts"}, "transform": [{"filter": "datum.p == 'c' && datum.k == 'state'"}],
 "mark": {"type": "text", "align": "left", "baseline": "alphabetic", "font": "Liberation Serif", "fontSize": 41, "color": "black"},
 "encoding": {
  "x": {"field": "x", "type": "quantitative", "axis": {"orient": "top", "labels": false, "title": null, "values": [-150, -100, -50, 0, 50, 100]}},
  "y": {"field": "y", "type": "quantitative", "axis": {"orient": "right", "labels": false, "title": null, "values": [0, 10, 20, 30, 40, 50, 60, 70, 80]}},
  "text": {"field": "t"}}},
{"data": {"name": "texts"}, "transform": [{"filter": "datum.p == 'c' && datum.k != 'state'"}],
 "mark": {"type": "text", "align": "left", "baseline": "alphabetic", "font": "Liberation Serif", "fontSize": 45, "color": "black"},
 "encoding": {"x": {"field": "x", "type": "quantitative", "axis": null}, "y": {"field": "y", "type": "quantitative", "axis": null}, "text": {"field": "t"}}}
]
}
]
}
